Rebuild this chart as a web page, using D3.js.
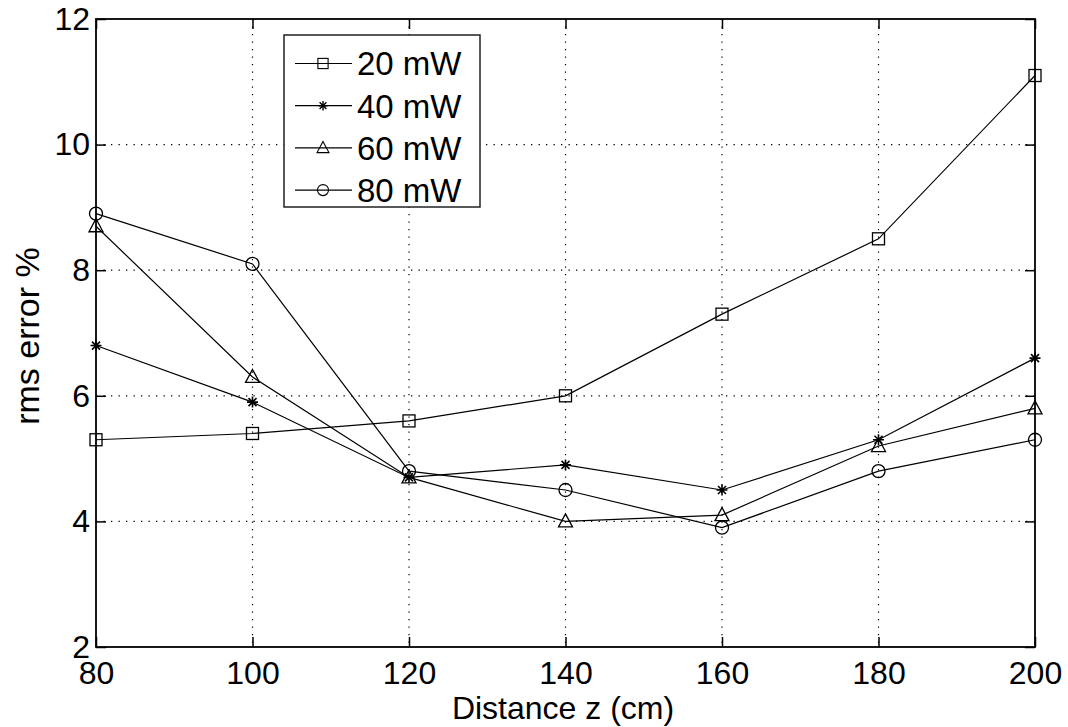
<!DOCTYPE html>
<html><head><meta charset="utf-8">
<script src="https://cdn.jsdelivr.net/npm/d3@7"></script>
<style>body{margin:0;background:#fff}svg{display:block}text{font-family:"Liberation Sans",Arial,sans-serif;fill:#000}</style>
</head><body>
<svg id="c" width="1068" height="727"></svg>
<script>
const distances = [80, 100, 120, 140, 160, 180, 200];
const p20 = [5.3, 5.4, 5.6, 6.0, 7.3, 8.5, 11.1];
const p40 = [6.8, 5.9, 4.7, 4.9, 4.5, 5.3, 6.6];
const p60 = [8.7, 6.3, 4.7, 4.0, 4.1, 5.2, 5.8];
const p80 = [8.9, 8.1, 4.8, 4.5, 3.9, 4.8, 5.3];
const seriesNames = ["20 mW", "40 mW", "60 mW", "80 mW"];
const seriesMarkers = ["square", "star", "triangle", "circle"];
const xTicks = [80, 100, 120, 140, 160, 180, 200];
const yTicks = [2, 4, 6, 8, 10, 12];
const xLabel = "Distance z (cm)";
const yLabel = "rms error %";

const series = [p20, p40, p60, p80].map((v, i) => ({name: seriesNames[i], marker: seriesMarkers[i], values: v}));

const svg = d3.select("#c");
const m = {l: 96, t: 19, r: 33, b: 80};
const W = 1068 - m.l - m.r, H = 727 - m.t - m.b;
const g = svg.append("g").attr("transform", `translate(${m.l},${m.t})`);
const x = d3.scaleLinear().domain([80, 200]).range([0, W]);
const y = d3.scaleLinear().domain([2, 12]).range([H, 0]);
const FS = 32;

// grid
const grid = g.append("g").attr("stroke", "#000").attr("stroke-width", 1.2).attr("stroke-dasharray", "1.3,6.2");
grid.selectAll(".gx").data(xTicks.slice(1, -1)).join("line")
  .attr("x1", d => x(d)).attr("x2", d => x(d)).attr("y1", 0).attr("y2", H);
grid.selectAll(".gy").data(yTicks.slice(1, -1)).join("line")
  .attr("y1", d => y(d)).attr("y2", d => y(d)).attr("x1", 0).attr("x2", W);

// axes
function styleAxis(sel) {
  sel.select(".domain").remove();
  sel.selectAll(".tick line").attr("stroke", "#000").attr("stroke-width", 1.5);
  sel.selectAll("text").attr("font-size", FS).style("font-family", '"Liberation Sans",Arial,sans-serif').attr("fill", "#000");
}
g.append("g").attr("transform", `translate(0,${H})`)
  .call(d3.axisBottom(x).tickValues(xTicks).tickSize(-10).tickPadding(14)).call(styleAxis);
g.append("g").call(d3.axisTop(x).tickValues(xTicks).tickSize(-10).tickFormat("")).call(styleAxis);
g.append("g").call(d3.axisLeft(y).tickValues(yTicks).tickSize(-10).tickPadding(6)).call(styleAxis)
  .selectAll("text").attr("dy", "0.32em");
g.append("g").attr("transform", `translate(${W},0)`)
  .call(d3.axisRight(y).tickValues(yTicks).tickSize(-10).tickFormat("")).call(styleAxis);
g.append("rect").attr("width", W).attr("height", H).attr("fill", "none").attr("stroke", "#000").attr("stroke-width", 1.8);

// markers
function drawMarker(sel, type) {
  if (type === "square") {
    sel.append("rect").attr("x", -6).attr("y", -6).attr("width", 12).attr("height", 12)
      .attr("fill", "none").attr("stroke", "#000").attr("stroke-width", 1.3);
  } else if (type === "circle") {
    sel.append("circle").attr("r", 6.5).attr("fill", "none").attr("stroke", "#000").attr("stroke-width", 1.3);
  } else if (type === "triangle") {
    sel.append("path").attr("d", "M0,-7.5L7,5.5L-7,5.5Z").attr("fill", "none").attr("stroke", "#000").attr("stroke-width", 1.3);
  } else if (type === "star") {
    sel.append("path").attr("d", "M-5.5,0H5.5M0,-5.5V5.5M-4,-4L4,4M-4,4L4,-4")
      .attr("fill", "none").attr("stroke", "#000").attr("stroke-width", 1.6);
  }
}

const line = d3.line().x((d, i) => x(distances[i])).y(d => y(d));
series.forEach(s => {
  g.append("path").datum(s.values).attr("d", line).attr("fill", "none").attr("stroke", "#000").attr("stroke-width", 1.2);
  s.values.forEach((v, i) => {
    const mk = g.append("g").attr("transform", `translate(${x(distances[i])},${y(v)})`);
    drawMarker(mk, s.marker);
  });
});

// legend
const lg = svg.append("g").attr("transform", "translate(284,35)");
lg.append("rect").attr("width", 196).attr("height", 172).attr("fill", "#fff").attr("stroke", "#222").attr("stroke-width", 1.5);
series.forEach((s, i) => {
  const yy = 28.5 + i * 42.2;
  lg.append("line").attr("x1", 11).attr("x2", 68).attr("y1", yy).attr("y2", yy).attr("stroke", "#000").attr("stroke-width", 1.2);
  const mk = lg.append("g").attr("transform", `translate(39,${yy}) scale(0.85)`);
  drawMarker(mk, s.marker);
  lg.append("text").attr("x", 73).attr("y", yy).attr("dy", "0.36em").attr("font-size", 33).text(s.name);
});

// axis labels
svg.append("text").attr("x", 563).attr("y", 719).attr("text-anchor", "middle").attr("font-size", 32).text(xLabel);
svg.append("text").attr("transform", `translate(39,336) rotate(-90)`).attr("text-anchor", "middle").attr("font-size", 34).text(yLabel);
</script>
</body></html>
